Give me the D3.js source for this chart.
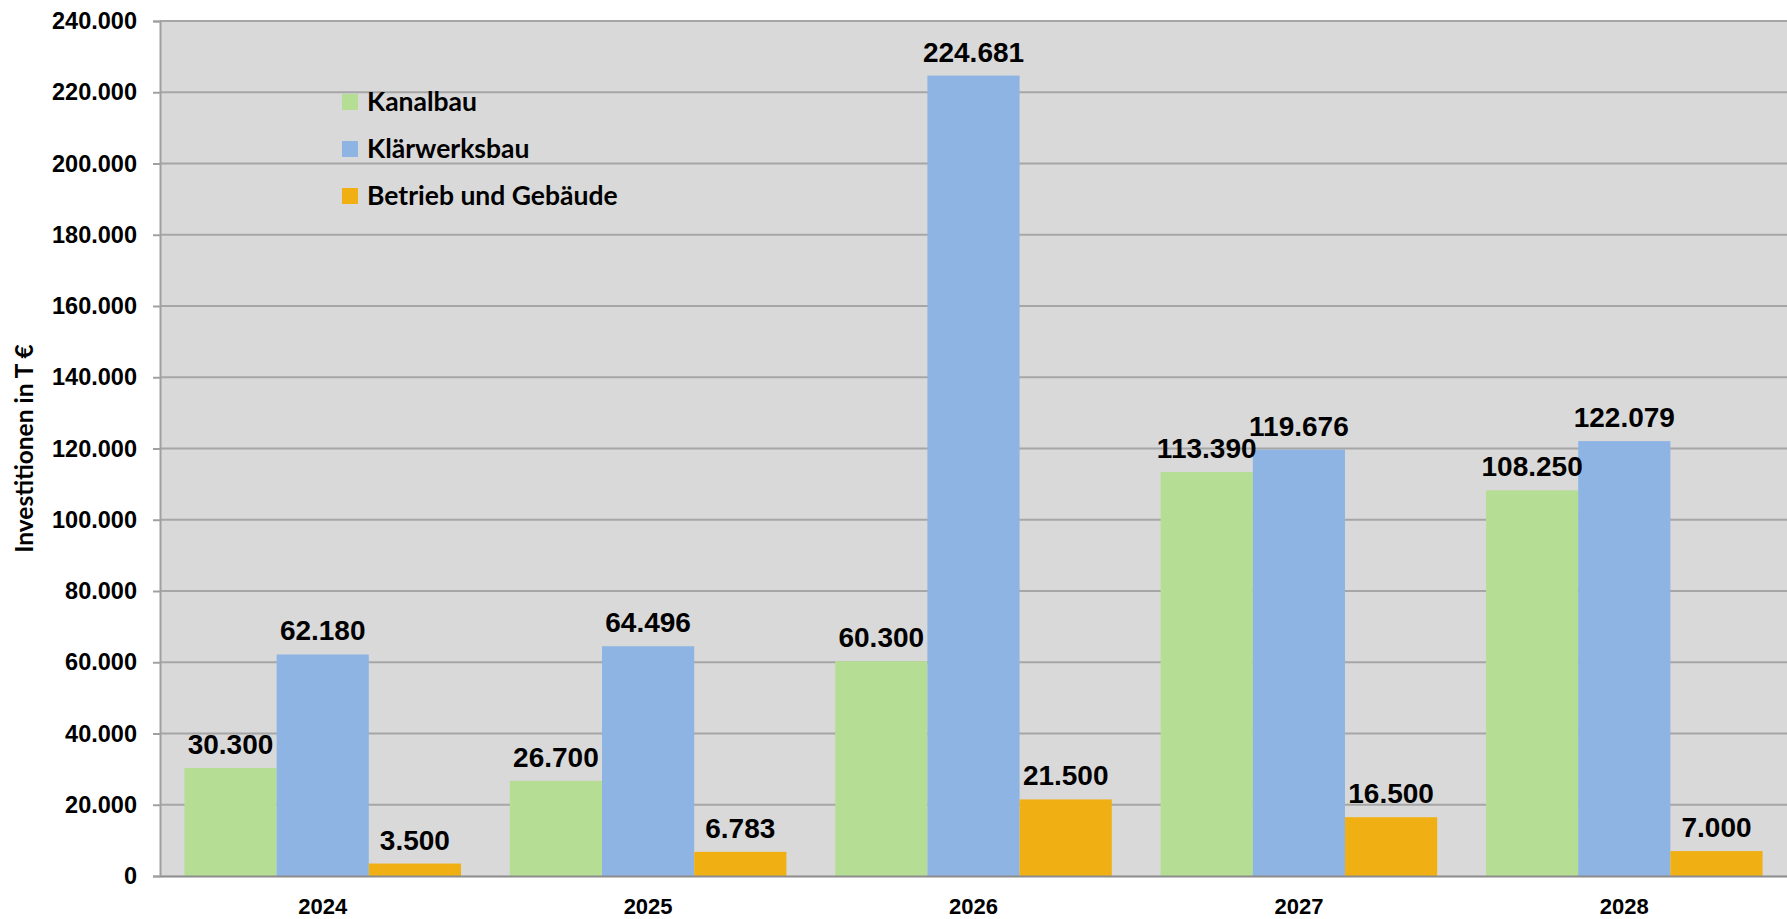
<!DOCTYPE html>
<html>
<head>
<meta charset="utf-8">
<script src="https://cdn.jsdelivr.net/npm/d3@7"></script>
<style>
  html, body { margin: 0; padding: 0; background: #ffffff; }
  svg { display: block; }
</style>
</head>
<body>
<script>
// chart data
var years = ["2024", "2025", "2026", "2027", "2028"];
var seriesNames = ["Kanalbau", "Klärwerksbau", "Betrieb und Gebäude"];
var kanalbau = [30300, 26700, 60300, 113390, 108250];
var klaerwerksbau = [62180, 64496, 224681, 119676, 122079];
var betrieb = [3500, 6783, 21500, 16500, 7000];
var yTicks = [0, 20000, 40000, 60000, 80000, 100000, 120000, 140000, 160000, 180000, 200000, 220000, 240000];

var seriesValues = [kanalbau, klaerwerksbau, betrieb];
var colors = ["#b5de94", "#8eb4e3", "#f0b014"];

var width = 1787, height = 919;
var margin = {top: 21, right: 0, bottom: 43, left: 160};

var svg = d3.select("body").append("svg")
	.attr("id", "mainSVG")
	.attr("width", width)
	.attr("height", height);

var plotW = width - margin.left - margin.right;
var plotH = height - margin.top - margin.bottom;

var g = svg.append("g")
	.attr("transform", "translate(" + margin.left + "," + margin.top + ")");

// scales
var x0 = d3.scaleBand()
	.domain(years)
	.range([0, plotW])
	.paddingInner(0.15)
	.paddingOuter(0.075);

var x1 = d3.scaleBand()
	.domain(d3.range(seriesNames.length))
	.range([0, x0.bandwidth()]);

var y = d3.scaleLinear()
	.domain([0, 240000])
	.range([plotH, 0]);

// plot background
g.append("rect")
	.attr("width", plotW)
	.attr("height", plotH)
	.attr("fill", "#d9d9d9");

var fmt = function(v) {
	return d3.format(",")(v).replace(/,/g, ".");
};

// gridlines
g.append("g")
	.selectAll("line")
	.data(yTicks.slice(1))
	.enter().append("line")
	.attr("x1", 0)
	.attr("x2", plotW)
	.attr("y1", function(d) { return y(d); })
	.attr("y2", function(d) { return y(d); })
	.attr("stroke", "#a6a6a6")
	.attr("stroke-width", 2);

// bars
var rows = [];
years.forEach(function(yr, i) {
	seriesValues.forEach(function(vals, s) {
		rows.push({year: yr, s: s, value: vals[i]});
	});
});

g.append("g")
	.selectAll("rect")
	.data(rows)
	.enter().append("rect")
	.attr("x", function(d) { return x0(d.year) + x1(d.s); })
	.attr("y", function(d) { return y(d.value); })
	.attr("width", x1.bandwidth())
	.attr("height", function(d) { return plotH - y(d.value); })
	.attr("fill", function(d) { return colors[d.s]; });

// value labels
g.append("g")
	.selectAll("text")
	.data(rows)
	.enter().append("text")
	.attr("x", function(d) { return x0(d.year) + x1(d.s) + x1.bandwidth() / 2; })
	.attr("y", function(d) { return y(d.value) - 14; })
	.attr("text-anchor", "middle")
	.style("font-family", "'Liberation Sans', Arial, sans-serif")
	.style("font-weight", "bold")
	.style("font-size", "28px")
	.attr("fill", "#000")
	.text(function(d) { return fmt(d.value); });

// y axis
var yAxis = g.append("g")
	.call(d3.axisLeft(y).tickValues(yTicks).tickSize(7).tickFormat(fmt));
yAxis.select(".domain").attr("stroke", "#a0a0a0").attr("stroke-width", 2);
yAxis.selectAll(".tick line").attr("stroke", "#a0a0a0").attr("stroke-width", 2);
yAxis.selectAll(".tick text")
	.attr("x", -23)
	.style("font-family", "'Liberation Sans', Arial, sans-serif")
	.style("font-weight", "bold")
	.style("font-size", "23.5px")
	.attr("fill", "#000");

// x axis
var xAxis = g.append("g")
	.attr("transform", "translate(0," + plotH + ")")
	.call(d3.axisBottom(x0).tickSize(0).tickPadding(22));
xAxis.select(".domain").attr("stroke", "#8c8c8c").attr("stroke-width", 2);
xAxis.selectAll(".tick text")
	.style("font-family", "'Liberation Sans', Arial, sans-serif")
	.style("font-weight", "bold")
	.style("font-size", "22px")
	.attr("fill", "#000");

// y axis title
svg.append("text")
	.attr("transform", "translate(33," + (margin.top + plotH / 2) + ") rotate(-90)")
	.attr("text-anchor", "middle")
	.style("font-family", "Lato, 'Open Sans', sans-serif")
	.style("font-weight", "bold")
	.style("font-size", "24.5px")
	.attr("fill", "#000")
	.text("Investitionen in T €");

// legend
var legend = svg.append("g")
	.attr("transform", "translate(342,102)");

var items = legend.selectAll("g")
	.data(seriesNames)
	.enter().append("g")
	.attr("transform", function(d, i) { return "translate(0," + (i * 47) + ")"; });

items.append("rect")
	.attr("x", 0)
	.attr("y", -8)
	.attr("width", 16)
	.attr("height", 16)
	.attr("fill", function(d, i) { return colors[i]; });

items.append("text")
	.attr("x", 25)
	.attr("y", 9)
	.style("font-family", "Lato, 'Open Sans', sans-serif")
	.style("font-weight", "bold")
	.style("font-size", "26.5px")
	.attr("fill", "#000")
	.text(function(d) { return d; });
</script>
</body>
</html>
